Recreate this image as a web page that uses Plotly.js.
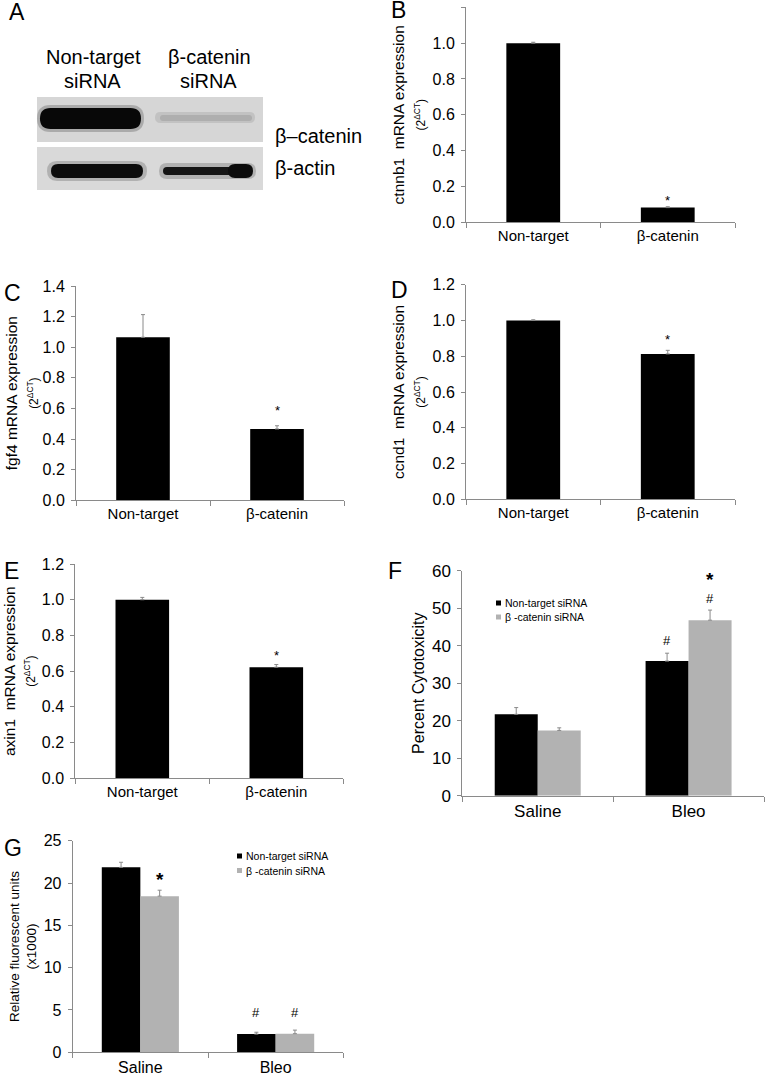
<!DOCTYPE html>
<html>
<head>
<meta charset="utf-8">
<script src="https://cdn.plot.ly/plotly-3.0.1.min.js"></script>
<style>
html,body{margin:0;padding:0;background:#fff;}
#chart{width:768px;height:1078px;}
</style>
</head>
<body>
<div id="chart"></div>
<script>
// ---------------- DATA ----------------
const catsExpr = ['Non-target', 'β-catenin'];
const ctnnb1 = [1.0, 0.082];
const ctnnb1Err = [0.005, 0.005];
const ctnnb1Sig = ['', '*'];
const fgf4 = [1.065, 0.466];
const fgf4Err = [0.148, 0.021];
const fgf4Sig = ['', '*'];
const ccnd1 = [1.0, 0.813];
const ccnd1Err = [0.004, 0.02];
const ccnd1Sig = ['', '*'];
const axin1 = [1.0, 0.622];
const axin1Err = [0.013, 0.015];
const axin1Sig = ['', '*'];

const catsTreat = ['Saline', 'Bleo'];
const seriesNames = ['Non-target siRNA', 'β -catenin siRNA'];
const cytoNT = [21.7, 35.9];
const cytoNTErr = [1.8, 2.1];
const cytoBC = [17.4, 46.8];
const cytoBCErr = [0.7, 2.7];
const cytoNTHash = ['', '#'];
const cytoBCHash = ['', '#'];
const cytoBCStar = ['', '*'];
const fluorNT = [21.85, 2.15];
const fluorNTErr = [0.6, 0.22];
const fluorBC = [18.45, 2.2];
const fluorBCErr = [0.7, 0.42];
const fluorNTHash = ['', '#'];
const fluorBCHash = ['', '#'];
const fluorBCStar = ['*', ''];

// ---------------- STYLE / LAYOUT HELPERS ----------------
const W = 768, H = 1078;
const FONT = 'Liberation Sans, Arial, sans-serif';
const BLACK = '#000000', GRAY = '#b2b2b2', AXIS = '#8a8a8a';
const px = x => x / W;
const py = y => 1 - y / H;
const P = (x, y) => px(x).toFixed(5) + ',' + py(y).toFixed(5);

function xAx(x0, x1, anchor, fs) {
  return {
    domain: [px(x0), px(x1)], anchor: anchor, type: 'category', range: [-0.5, 1.5],
    showline: true, linecolor: AXIS, linewidth: 1, ticks: 'outside', tickson: 'boundaries',
    ticklen: 5, tickcolor: AXIS, showgrid: false, zeroline: false, fixedrange: true,
    tickfont: {family: FONT, size: fs || 15, color: BLACK}
  };
}
function yAx(y0, y1, anchor, range, dtick, fmt, title, tfs, standoff, tickfs) {
  return {
    domain: [py(y1), py(y0)], anchor: anchor, range: range, dtick: dtick, tickformat: fmt,
    showline: true, linecolor: AXIS, linewidth: 1, ticks: 'outside', ticklen: 4,
    tickcolor: AXIS, showgrid: false, zeroline: false, fixedrange: true,
    ticklabelstandoff: 3,
    tickfont: {family: FONT, size: tickfs || 16, color: BLACK},
    title: {text: title, font: {family: FONT, size: tfs, color: BLACK}, standoff: standoff}
  };
}

const traces = [];
const annotations = [];
const shapes = [];

function addSingle(xa, ya, vals, errs, sigs, yshift) {
  traces.push({
    type: 'bar', x: catsExpr, y: vals, xaxis: xa, yaxis: ya, width: 0.4,
    marker: {color: BLACK, line: {width: 0}}, showlegend: false, hoverinfo: 'skip',
    error_y: {type: 'data', symmetric: false, array: errs, arrayminus: errs.map(() => 0),
              color: AXIS, thickness: 1, width: 2}
  });
  sigs.forEach((s, i) => {
    if (!s) return;
    annotations.push({xref: xa, yref: ya, x: i, y: vals[i] + errs[i], text: s,
      showarrow: false, yanchor: 'bottom', yshift: yshift,
      font: {family: FONT, size: 13, color: BLACK}});
  });
}

const GW = 0.285;
const COLORS = [BLACK, GRAY];
function addGroup(xa, ya, nt, ntErr, bc, bcErr) {
  [[nt, ntErr, -GW], [bc, bcErr, 0]].forEach((s, k) => {
    traces.push({
      type: 'bar', x: catsTreat, y: s[0], xaxis: xa, yaxis: ya, width: GW, offset: s[2],
      name: seriesNames[k], showlegend: false,
      marker: {color: COLORS[k], line: {width: 0}}, hoverinfo: 'skip',
      error_y: {type: 'data', symmetric: false, array: s[1], arrayminus: s[1].map(() => 0),
                color: AXIS, thickness: 1, width: 2}
    });
  });
}
// marks: list of [texts, size, bold] stacked top->bottom per category
function addMarks(xa, ya, vals, errs, lists, offset, yshift) {
  vals.forEach((v, i) => {
    const parts = lists.map(l => l[0][i] ? (l[2] ? '<b><span style="font-size:' + l[1] + 'px">' + l[0][i] + '</span></b>'
                                                  : '<span style="font-size:' + l[1] + 'px">' + l[0][i] + '</span>') : null)
                       .filter(p => p);
    if (!parts.length) return;
    annotations.push({xref: xa, yref: ya, x: i + offset + GW / 2, y: v + errs[i],
      text: parts.join('<br>'), showarrow: false, yanchor: 'bottom', yshift: yshift[i],
      font: {family: FONT, size: 13, color: BLACK}});
  });
}
// manual legend (small squares + labels)
function addLegend(x, y, gap) {
  seriesNames.forEach((n, k) => {
    const yy = y + k * gap;
    shapes.push({type: 'rect', xref: 'paper', yref: 'paper', x0: px(x - 2.5), x1: px(x + 2.5),
      y0: py(yy + 2.5), y1: py(yy - 2.5), fillcolor: COLORS[k], line: {width: 0}});
    annotations.push({xref: 'paper', yref: 'paper', x: px(x + 4), y: py(yy), xanchor: 'left',
      yanchor: 'middle', text: n, showarrow: false, font: {family: FONT, size: 10.5, color: BLACK}});
  });
}

// Panels B-E
addSingle('x', 'y', ctnnb1, ctnnb1Err, ctnnb1Sig, -3);
addSingle('x2', 'y2', fgf4, fgf4Err, fgf4Sig, 6);
addSingle('x3', 'y3', ccnd1, ccnd1Err, ccnd1Sig, 1);
addSingle('x4', 'y4', axin1, axin1Err, axin1Sig, 0);
// Panel F
addGroup('x5', 'y5', cytoNT, cytoNTErr, cytoBC, cytoBCErr);
addMarks('x5', 'y5', cytoNT, cytoNTErr, [[cytoNTHash, 13, false]], -GW, [3, 3]);
addMarks('x5', 'y5', cytoBC, cytoBCErr, [[cytoBCStar, 19, true], [cytoBCHash, 13, false]], 0, [2, 2]);
addLegend(498.5, 603, 14);
// Panel G
addGroup('x6', 'y6', fluorNT, fluorNTErr, fluorBC, fluorBCErr);
addMarks('x6', 'y6', fluorNT, fluorNTErr, [[fluorNTHash, 13, false]], -GW, [10, 10]);
addMarks('x6', 'y6', fluorBC, fluorBCErr, [[fluorBCStar, 19, true], [fluorBCHash, 13, false]], 0, [-2, 8]);
addLegend(239.5, 856, 14.5);

// Panel letters
[['A', 7, 12], ['B', 389, 10], ['C', 2, 293], ['D', 389, 290], ['E', 2, 571], ['F', 386, 571], ['G', 2, 848]]
  .forEach(l => annotations.push({xref: 'paper', yref: 'paper', x: px(l[1]), y: py(l[2]),
    xanchor: 'left', yanchor: 'middle', text: l[0], showarrow: false,
    font: {family: FONT, size: 23, color: BLACK}}));

// Panel A: western blot (drawn decoration) + labels
function band(x0, x1, y0, y1, color, op) {
  const r = (y1 - y0) / 2, yc = (y0 + y1) / 2;
  return {type: 'path', xref: 'paper', yref: 'paper', fillcolor: color, opacity: op,
    line: {width: 0}, layer: 'above',
    path: 'M' + P(x0 + r, y0) + ' L' + P(x1 - r, y0) + ' Q' + P(x1, y0) + ' ' + P(x1, yc) +
          ' Q' + P(x1, y1) + ' ' + P(x1 - r, y1) + ' L' + P(x0 + r, y1) + ' Q' + P(x0, y1) + ' ' + P(x0, yc) +
          ' Q' + P(x0, y0) + ' ' + P(x0 + r, y0) + ' Z'};
}
function rect(x0, y0, x1, y1, color) {
  return {type: 'rect', xref: 'paper', yref: 'paper', x0: px(x0), x1: px(x1), y0: py(y1), y1: py(y0),
    fillcolor: color, line: {width: 0}, layer: 'below'};
}
shapes.push(
  rect(37, 97, 263, 142, '#d6d6d6'),
  rect(37, 147, 263, 190, '#d9d9d9'),
  band(37, 144, 105, 132, '#444', 0.3),
  band(40, 141, 108, 129, '#080808', 1),
  band(155, 255, 112, 123, '#aaa', 0.45),
  band(160, 252, 115, 121, '#a0a0a0', 0.6),
  band(47, 147, 161, 181, '#555', 0.3),
  band(51, 143, 164, 178, '#0c0c0c', 1),
  band(159, 256, 163, 179, '#555', 0.3),
  band(163, 240, 167, 175, '#151515', 1),
  band(228, 253, 164, 178, '#0c0c0c', 1)
);
[['Non-target', 93, 57], ['siRNA', 92, 81], ['β-catenin', 209, 57], ['siRNA', 208, 81]]
  .forEach(t => annotations.push({xref: 'paper', yref: 'paper', x: px(t[1]), y: py(t[2]),
    xanchor: 'center', yanchor: 'middle', text: t[0], showarrow: false,
    font: {family: FONT, size: 20, color: BLACK}}));
[['β–catenin', 273, 136], ['β-actin', 273, 168]]
  .forEach(t => annotations.push({xref: 'paper', yref: 'paper', x: px(t[1]), y: py(t[2]),
    xanchor: 'left', yanchor: 'middle', text: t[0], showarrow: false,
    font: {family: FONT, size: 20, color: BLACK}}));

const sub = () => '<span style="font-size:12px">(2<sup>ΔCT</sup>)</span>';

const layout = {
  width: W, height: H, margin: {l: 0, r: 0, t: 0, b: 0},
  paper_bgcolor: '#fff', plot_bgcolor: 'rgba(0,0,0,0)',
  font: {family: FONT, color: BLACK},
  showlegend: false, barmode: 'overlay',
  xaxis: xAx(466, 735, 'y'),
  yaxis: yAx(7.3, 222.3, 'x', [0, 1.2], 0.2, '.1f', 'ctnnb1  mRNA expression<br>' + sub(), 15.5, 3),
  xaxis2: xAx(76, 344, 'y2'),
  yaxis2: yAx(286, 500.3, 'x2', [0, 1.4], 0.2, '.1f', 'fgf4 mRNA expression<br>' + sub(), 15.5, 0),
  xaxis3: xAx(466, 735, 'y3'),
  yaxis3: yAx(284.7, 499.3, 'x3', [0, 1.2], 0.2, '.1f', 'ccnd1  mRNA expression<br>' + sub(), 15.5, 3),
  xaxis4: xAx(75.3, 343.3, 'y4'),
  yaxis4: yAx(564, 778.3, 'x4', [0, 1.2], 0.2, '.1f', 'axin1  mRNA expression<br>' + sub(), 15.5, 2),
  xaxis5: xAx(462.3, 764, 'y5', 17),
  yaxis5: yAx(570.7, 795.7, 'x5', [0, 60], 10, 'd', 'Percent Cytotoxicity', 16, 3, 17),
  xaxis6: xAx(72.7, 343.3, 'y6', 16),
  yaxis6: yAx(840.7, 1052.3, 'x6', [0, 25], 5, 'd', 'Relative fluorescent units<br>(x1000)', 13.5, 3),
  annotations: annotations,
  shapes: shapes
};

Plotly.newPlot('chart', traces, layout, {displayModeBar: false, staticPlot: true});
</script>
</body>
</html>
